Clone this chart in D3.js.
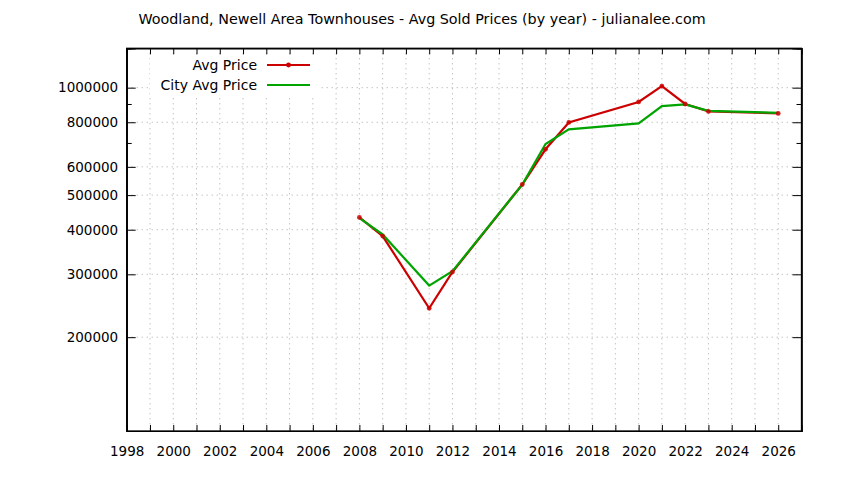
<!DOCTYPE html>
<html><head><meta charset="utf-8">
<script src="https://cdn.jsdelivr.net/npm/d3@7"></script>
<style>body{margin:0;background:#fff}svg{display:block}text{font-family:"DejaVu Sans",sans-serif;fill:#000}</style>
</head><body>
<svg id="c" width="844" height="480"></svg>
<script>
const title = "Woodland, Newell Area Townhouses - Avg Sold Prices (by year) - julianalee.com";
const avgYears  = [2008, 2009, 2011, 2012, 2015, 2016, 2017, 2020, 2021, 2022, 2023, 2026];
const avgPrice  = [433000, 384000, 241000, 304500, 535500, 672000, 799000, 912000, 1010000, 900000, 858000, 847000];
const cityYears = [2008, 2009, 2011, 2012, 2015, 2016, 2017, 2020, 2021, 2022, 2023, 2026];
const cityPrice = [431000, 388000, 279000, 306000, 535000, 695000, 764000, 794000, 888000, 898000, 861000, 850000];
const yMajor = [200000, 300000, 400000, 500000, 600000, 800000, 1000000];
const yMinor = [700000, 900000];
const xLabelYears = d3.range(1998, 2027, 2);
const xAllYears = d3.range(1999, 2027, 1);
const seriesNames = ["Avg Price", "City Avg Price"];

const svg = d3.select("#c");
const L = 126.7, R = 801.5, T = 48.3, B = 431;
const x = d3.scaleLinear().domain([1998, 2027]).range([L, R]);
const y = d3.scaleLog().domain([109200, 1289000]).range([B, T]);

// grid
const g = svg.append("g");
g.selectAll(".vg").data(xAllYears).join("line")
  .attr("x1", d => x(d)).attr("x2", d => x(d)).attr("y1", T).attr("y2", B)
  .attr("stroke", "#a8a8a8").attr("stroke-width", 1).attr("stroke-dasharray", "1,4");
g.selectAll(".hg").data(yMajor).join("line")
  .attr("x1", L).attr("x2", R).attr("y1", d => y(d)).attr("y2", d => y(d))
  .attr("stroke", "#a8a8a8").attr("stroke-width", 1).attr("stroke-dasharray", "1,4");

// legend background box to hide grid behind legend
svg.append("rect").attr("x", 150).attr("y", 55).attr("width", 168).attr("height", 40).attr("fill", "#fff");

const fmt = d => String(d);
const axB = d3.axisBottom(x).tickValues(xAllYears).tickSize(-6).tickFormat(() => "");
const axT = d3.axisTop(x).tickValues(xAllYears).tickSize(-6).tickFormat(() => "");
svg.append("g").attr("transform", `translate(0,${B})`).call(axB);
svg.append("g").attr("transform", `translate(0,${T})`).call(axT);
const axBL = d3.axisBottom(x).tickValues(xLabelYears).tickSize(0).tickPadding(15).tickFormat(fmt);
svg.append("g").attr("transform", `translate(0,${B})`).call(axBL).call(s => s.select(".domain").remove());

const axL = d3.axisLeft(y).tickValues(yMajor).tickSize(-9).tickPadding(8.5).tickFormat(fmt);
const axLm = d3.axisLeft(y).tickValues(yMinor).tickSize(-5).tickFormat(() => "");
const axR = d3.axisRight(y).tickValues(yMajor).tickSize(-9).tickFormat(() => "");
const axRm = d3.axisRight(y).tickValues(yMinor).tickSize(-5).tickFormat(() => "");
svg.append("g").attr("transform", `translate(${L},0)`).call(axL);
svg.append("g").attr("transform", `translate(${L},0)`).call(axLm);
svg.append("g").attr("transform", `translate(${R},0)`).call(axR);
svg.append("g").attr("transform", `translate(${R},0)`).call(axRm);

svg.selectAll(".tick text").attr("font-size", 13.5).attr("font-family", "DejaVu Sans").attr("fill", "#000");
svg.selectAll(".domain").attr("stroke", "#000").attr("stroke-width", 1.2);
svg.selectAll(".tick line").attr("stroke", "#000");

// frame
svg.append("rect").attr("x", L).attr("y", T).attr("width", R - L).attr("height", B - T)
  .attr("fill", "none").attr("stroke", "#000").attr("stroke-width", 1.3);

// title
svg.append("text").attr("x", 422).attr("y", 24.3).attr("text-anchor", "middle")
  .attr("font-size", 14.3).text(title);

// lines
const line = d3.line().x(d => x(d[0])).y(d => y(d[1]));
const avgData = avgYears.map((d, i) => [d, avgPrice[i]]);
const cityData = cityYears.map((d, i) => [d, cityPrice[i]]);
const RED = "#cc0000", GREEN = "#00a400";
svg.append("path").datum(avgData).attr("d", line).attr("fill", "none").attr("stroke", RED).attr("stroke-width", 2.2);
svg.append("path").datum(cityData).attr("d", line).attr("fill", "none").attr("stroke", GREEN).attr("stroke-width", 2.2);
svg.selectAll(".pt").data(avgData).join("circle").attr("cx", d => x(d[0])).attr("cy", d => y(d[1]))
  .attr("r", 2.4).attr("fill", RED).attr("opacity", 0.85);

// legend
const lg = svg.append("g");
const ly = [65, 85];
lg.selectAll("text").data(seriesNames).join("text")
  .attr("x", 257).attr("y", (d, i) => ly[i]).attr("dy", "0.35em").attr("text-anchor", "end")
  .attr("font-size", 14).text(d => d);
lg.append("line").attr("x1", 267).attr("x2", 310).attr("y1", ly[0]).attr("y2", ly[0]).attr("stroke", RED).attr("stroke-width", 2.2);
lg.append("circle").attr("cx", 288.5).attr("cy", ly[0]).attr("r", 2.4).attr("fill", RED);
lg.append("line").attr("x1", 267).attr("x2", 310).attr("y1", ly[1]).attr("y2", ly[1]).attr("stroke", GREEN).attr("stroke-width", 2.2);
</script>
</body></html>
